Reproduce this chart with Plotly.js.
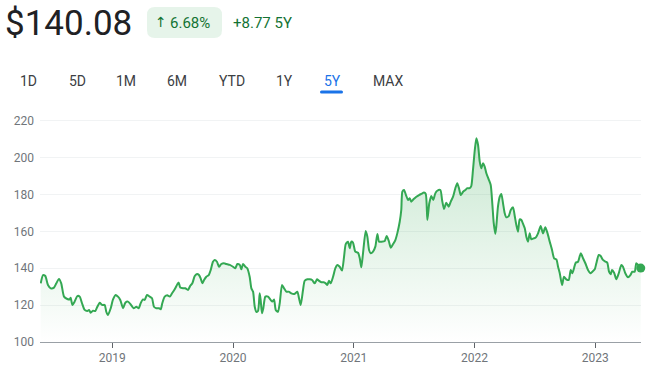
<!DOCTYPE html>
<html>
<head>
<meta charset="utf-8">
<script src="https://cdn.plot.ly/plotly-3.0.1.min.js"></script>
<style>html,body{margin:0;padding:0;background:#fff;}#chart{width:650px;height:373px;}</style>
</head>
<body>
<div id="chart"></div>
<script>
// Time as fractional year, price in USD
const years = [
2018.407,2018.426,2018.445,2018.467,2018.490,2018.517,2018.536,2018.558,2018.577,2018.600,
2018.627,2018.647,2018.655,2018.669,2018.688,2018.710,2018.730,2018.749,2018.771,2018.793,
2018.807,2018.821,2018.840,2018.859,2018.876,2018.896,2018.915,2018.937,2018.950,2018.964,
2018.987,2019.006,2019.028,2019.047,2019.066,2019.089,2019.108,2019.130,2019.152,2019.177,
2019.199,2019.219,
2019.235,2019.254,2019.268,2019.287,2019.310,2019.329,2019.345,2019.365,2019.387,2019.401,
2019.414,2019.434,2019.456,2019.476,2019.495,2019.517,2019.539,2019.550,2019.563,2019.586,
2019.605,2019.627,2019.646,2019.663,2019.683,2019.702,2019.718,2019.732,2019.746,2019.760,
2019.779,2019.799,2019.815,2019.834,2019.848,2019.867,2019.884,2019.903,2019.925,2019.944,
2019.973,2020.000,2020.019,2020.036,
2020.056,2020.069,2020.083,2020.102,2020.118,2020.138,2020.152,2020.166,2020.180,2020.193,
2020.207,2020.221,2020.229,2020.240,2020.251,2020.268,2020.290,2020.312,2020.326,2020.340,
2020.354,2020.373,2020.387,2020.406,2020.423,2020.442,2020.461,2020.483,2020.503,2020.516,
2020.533,2020.547,2020.561,2020.580,2020.594,2020.616,2020.635,2020.655,2020.677,2020.696,
2020.713,2020.732,2020.751,2020.768,2020.781,2020.795,2020.809,2020.829,2020.848,2020.864,
2020.884,2020.903,2020.920,2020.934,2020.953,2020.967,2020.980,2020.994,2021.013,2021.036,
2021.050,2021.063,2021.077,2021.099,2021.113,2021.127,2021.141,2021.160,2021.179,2021.196,
2021.210,2021.229,2021.257,2021.273,2021.290,2021.307,2021.326,2021.345,2021.361,2021.381,
2021.394,2021.403,2021.417,2021.433,2021.450,2021.464,2021.477,2021.497,2021.519,2021.541,
2021.560,2021.582,2021.597,2021.610,2021.626,2021.643,2021.659,2021.676,2021.692,
2021.718,2021.732,2021.748,2021.767,2021.787,2021.804,2021.823,2021.842,2021.858,2021.872,
2021.887,2021.906,2021.925,2021.941,2021.961,2021.974,2021.988,2022.003,2022.016,2022.030,
2022.044,2022.057,2022.071,2022.085,2022.099,2022.118,2022.135,2022.148,2022.160,2022.173,
2022.181,2022.195,2022.210,2022.223,2022.237,2022.251,2022.264,2022.284,2022.301,2022.320,
2022.334,2022.347,2022.361,2022.375,2022.389,2022.403,2022.417,2022.430,2022.444,2022.458,
2022.471,2022.491,2022.508,2022.527,
2022.549,2022.568,2022.587,2022.604,2022.624,2022.643,2022.660,2022.679,2022.693,2022.707,
2022.726,2022.742,2022.761,2022.781,2022.798,2022.811,2022.825,2022.839,2022.858,2022.881,
2022.900,2022.919,2022.941,2022.960,2022.977,2022.997,2023.010,2023.030,2023.046,2023.065,
2023.088,2023.101,2023.115,2023.129,2023.140,2023.157,2023.176,2023.196,2023.217,2023.231,
2023.250,2023.273,2023.292,2023.308,2023.328,2023.341,2023.355,2023.378
];
const prices = [
131.8,136.3,135.8,130.9,129.1,129.5,131.8,134.2,131.8,124.6,
123.3,123.1,124.0,120.1,121.9,124.9,124.6,121.0,117.4,116.8,
117.4,115.9,117.0,116.8,119.1,121.3,120.1,120.1,116.4,114.6,
118.3,123.1,125.5,124.6,122.8,118.3,121.3,121.9,120.4,118.3,
119.1,118.3,
121.0,123.1,122.8,125.5,124.6,123.7,119.1,118.3,118.3,117.7,
121.0,124.6,125.3,124.6,126.4,128.6,131.3,132.2,129.5,129.1,
129.1,128.2,130.5,131.8,135.8,136.9,136.3,134.5,131.8,133.6,
135.4,136.3,139.0,143.5,144.5,143.5,140.8,142.3,142.7,142.3,
141.8,140.8,140.0,142.3,
141.8,139.4,142.3,140.8,140.0,135.4,129.1,127.3,119.1,116.4,
116.8,126.4,122.8,115.6,118.3,124.6,124.6,122.8,121.9,123.1,
117.4,116.4,121.0,130.9,129.1,127.3,127.3,126.4,126.0,126.4,
127.3,123.7,120.1,128.2,133.2,134.0,134.0,133.6,131.8,134.0,
133.1,132.4,132.4,131.8,130.9,133.2,131.8,135.4,140.0,141.8,
140.8,138.7,146.3,153.1,154.4,150.8,154.4,153.9,149.0,148.4,
145.4,140.5,148.1,160.2,157.1,149.9,148.1,149.0,151.7,158.6,
154.4,154.4,154.8,157.5,154.9,151.1,153.1,155.3,158.9,165.2,
171.6,181.5,182.4,179.7,177.0,177.9,176.1,177.5,178.8,179.7,
180.3,181.0,180.3,166.2,175.2,179.2,177.0,180.6,182.0,
182.4,177.0,172.1,175.5,173.4,176.1,178.8,183.4,186.1,183.4,
179.7,181.5,182.4,183.4,183.4,184.6,193.3,204.1,210.5,206.8,
197.8,194.2,196.9,195.1,191.5,188.2,185.1,175.2,164.4,158.6,
162.5,173.4,178.8,180.3,175.2,169.8,167.6,168.3,171.6,173.0,
168.3,163.5,159.8,166.5,166.2,164.0,161.7,157.1,154.4,158.9,
155.7,156.2,156.6,158.9,
162.9,158.9,162.2,159.3,154.4,149.9,145.4,144.8,140.8,137.3,
130.9,135.4,134.0,133.6,139.0,137.3,140.0,143.0,143.5,148.1,
145.4,142.7,139.0,137.3,138.1,139.4,142.7,147.2,146.6,144.5,
143.5,143.0,138.1,136.7,139.0,137.6,134.0,137.3,141.8,140.8,
137.3,135.1,136.3,138.1,138.1,142.7,141.8,140.08
];
const yearTicks = [2019, 2020, 2021, 2022, 2023];
const yearLabels = ["2019", "2020", "2021", "2022", "2023"];
const priceTicks = [100, 120, 140, 160, 180, 200, 220];
const lastPrice = "$140.08";
const changeArrow = "↑";
const changePct = "6.68%";
const changeAbs = "+8.77 5Y";
const ranges = ["1D", "5D", "1M", "6M", "YTD", "1Y", "5Y", "MAX"];
const activeRange = "5Y";

// pixel helpers for header items (paper coords)
const L = 40, R = 9, T = 117, B = 31, WD = 650, HT = 373;
const PW = WD - L - R, PH = HT - T - B;
const px = x => (x - L) / PW;
const py = y => (HT - B - y) / PH;

const lineGreen = '#34a853';
const rangeX = [28, 77, 126, 177, 232, 284, 332, 388];

const annotations = [
  {text: lastPrice, x: px(3), y: py(23), xanchor: 'left', yanchor: 'middle',
   font: {family: 'Roboto, Arial', size: 35, color: '#202124'}},
  {text: changeArrow, x: px(161), y: py(22), xanchor: 'center', yanchor: 'middle',
   font: {family: '"DejaVu Sans", Arial', size: 14, color: '#137333'}},
  {text: changePct, x: px(168), y: py(22.5), xanchor: 'left', yanchor: 'middle',
   font: {family: 'Roboto, Arial', size: 15, color: '#137333'}},
  {text: changeAbs, x: px(231), y: py(22.5), xanchor: 'left', yanchor: 'middle',
   font: {family: 'Roboto, Arial', size: 15, color: '#137333'}}
];
ranges.forEach((r, i) => {
  annotations.push({text: r, x: px(rangeX[i]), y: py(80.5), xanchor: 'center', yanchor: 'middle',
    font: {family: 'Roboto, Arial', size: 14, color: r === activeRange ? '#1a73e8' : '#3c4043'}});
});
annotations.forEach(a => { a.xref = 'paper'; a.yref = 'paper'; a.showarrow = false; });

const rr = (w, h, r) => {
  const x0 = -w/2, x1 = w/2, y0 = -h/2, y1 = h/2;
  return `M${x0+r},${y0} L${x1-r},${y0} Q${x1},${y0} ${x1},${y0+r} L${x1},${y1-r} Q${x1},${y1} ${x1-r},${y1} L${x0+r},${y1} Q${x0},${y1} ${x0},${y1-r} L${x0},${y0+r} Q${x0},${y0} ${x0+r},${y0} Z`;
};

const shapes = [
  {type: 'path', xref: 'paper', yref: 'paper', xsizemode: 'pixel', ysizemode: 'pixel',
   xanchor: px(184.5), yanchor: py(22.5), path: rr(75, 31, 8),
   fillcolor: '#e6f4ea', line: {width: 0}},
  {type: 'path', xref: 'paper', yref: 'paper', xsizemode: 'pixel', ysizemode: 'pixel',
   xanchor: px(331.5), yanchor: py(92), path: rr(23, 3, 1.5),
   fillcolor: '#1a73e8', line: {width: 0}}
];

const data = [
  {x: years, y: prices, type: 'scatter', mode: 'lines',
   line: {color: lineGreen, width: 2, shape: 'spline', smoothing: 0.6},
   fill: 'tozeroy',
   fillgradient: {type: 'vertical', start: 100, stop: 215,
     colorscale: [[0, 'rgba(52,168,83,0)'], [1, 'rgba(52,168,83,0.28)']]},
   hoverinfo: 'skip'},
  {x: [years[years.length - 1]], y: [prices[prices.length - 1]], type: 'scatter', mode: 'markers',
   marker: {color: lineGreen, size: 9}, cliponaxis: false, hoverinfo: 'skip'}
];

const layout = {
  width: WD, height: HT,
  margin: {l: L, r: R, t: T, b: B},
  paper_bgcolor: '#fff', plot_bgcolor: '#fff',
  showlegend: false,
  font: {family: 'Roboto, Arial', color: '#70757a', size: 12},
  xaxis: {range: [2018.401, 2023.380], tickvals: yearTicks, ticktext: yearLabels,
    showgrid: false, zeroline: false, showline: true, linecolor: '#9aa0a6', linewidth: 1,
    ticks: 'outside', ticklen: 5, tickcolor: '#5f6368', tickwidth: 1,
    tickfont: {size: 12, color: '#70757a'}, fixedrange: true},
  yaxis: {range: [100, 222], tickvals: priceTicks, showgrid: true, gridcolor: '#f1f3f4',
    zeroline: false, showline: false, ticks: '', ticklabelstandoff: 5,
    tickfont: {size: 12, color: '#70757a'}, fixedrange: true},
  annotations: annotations,
  shapes: shapes
};

Plotly.newPlot('chart', data, layout, {displayModeBar: false, staticPlot: true});
</script>
</body>
</html>
